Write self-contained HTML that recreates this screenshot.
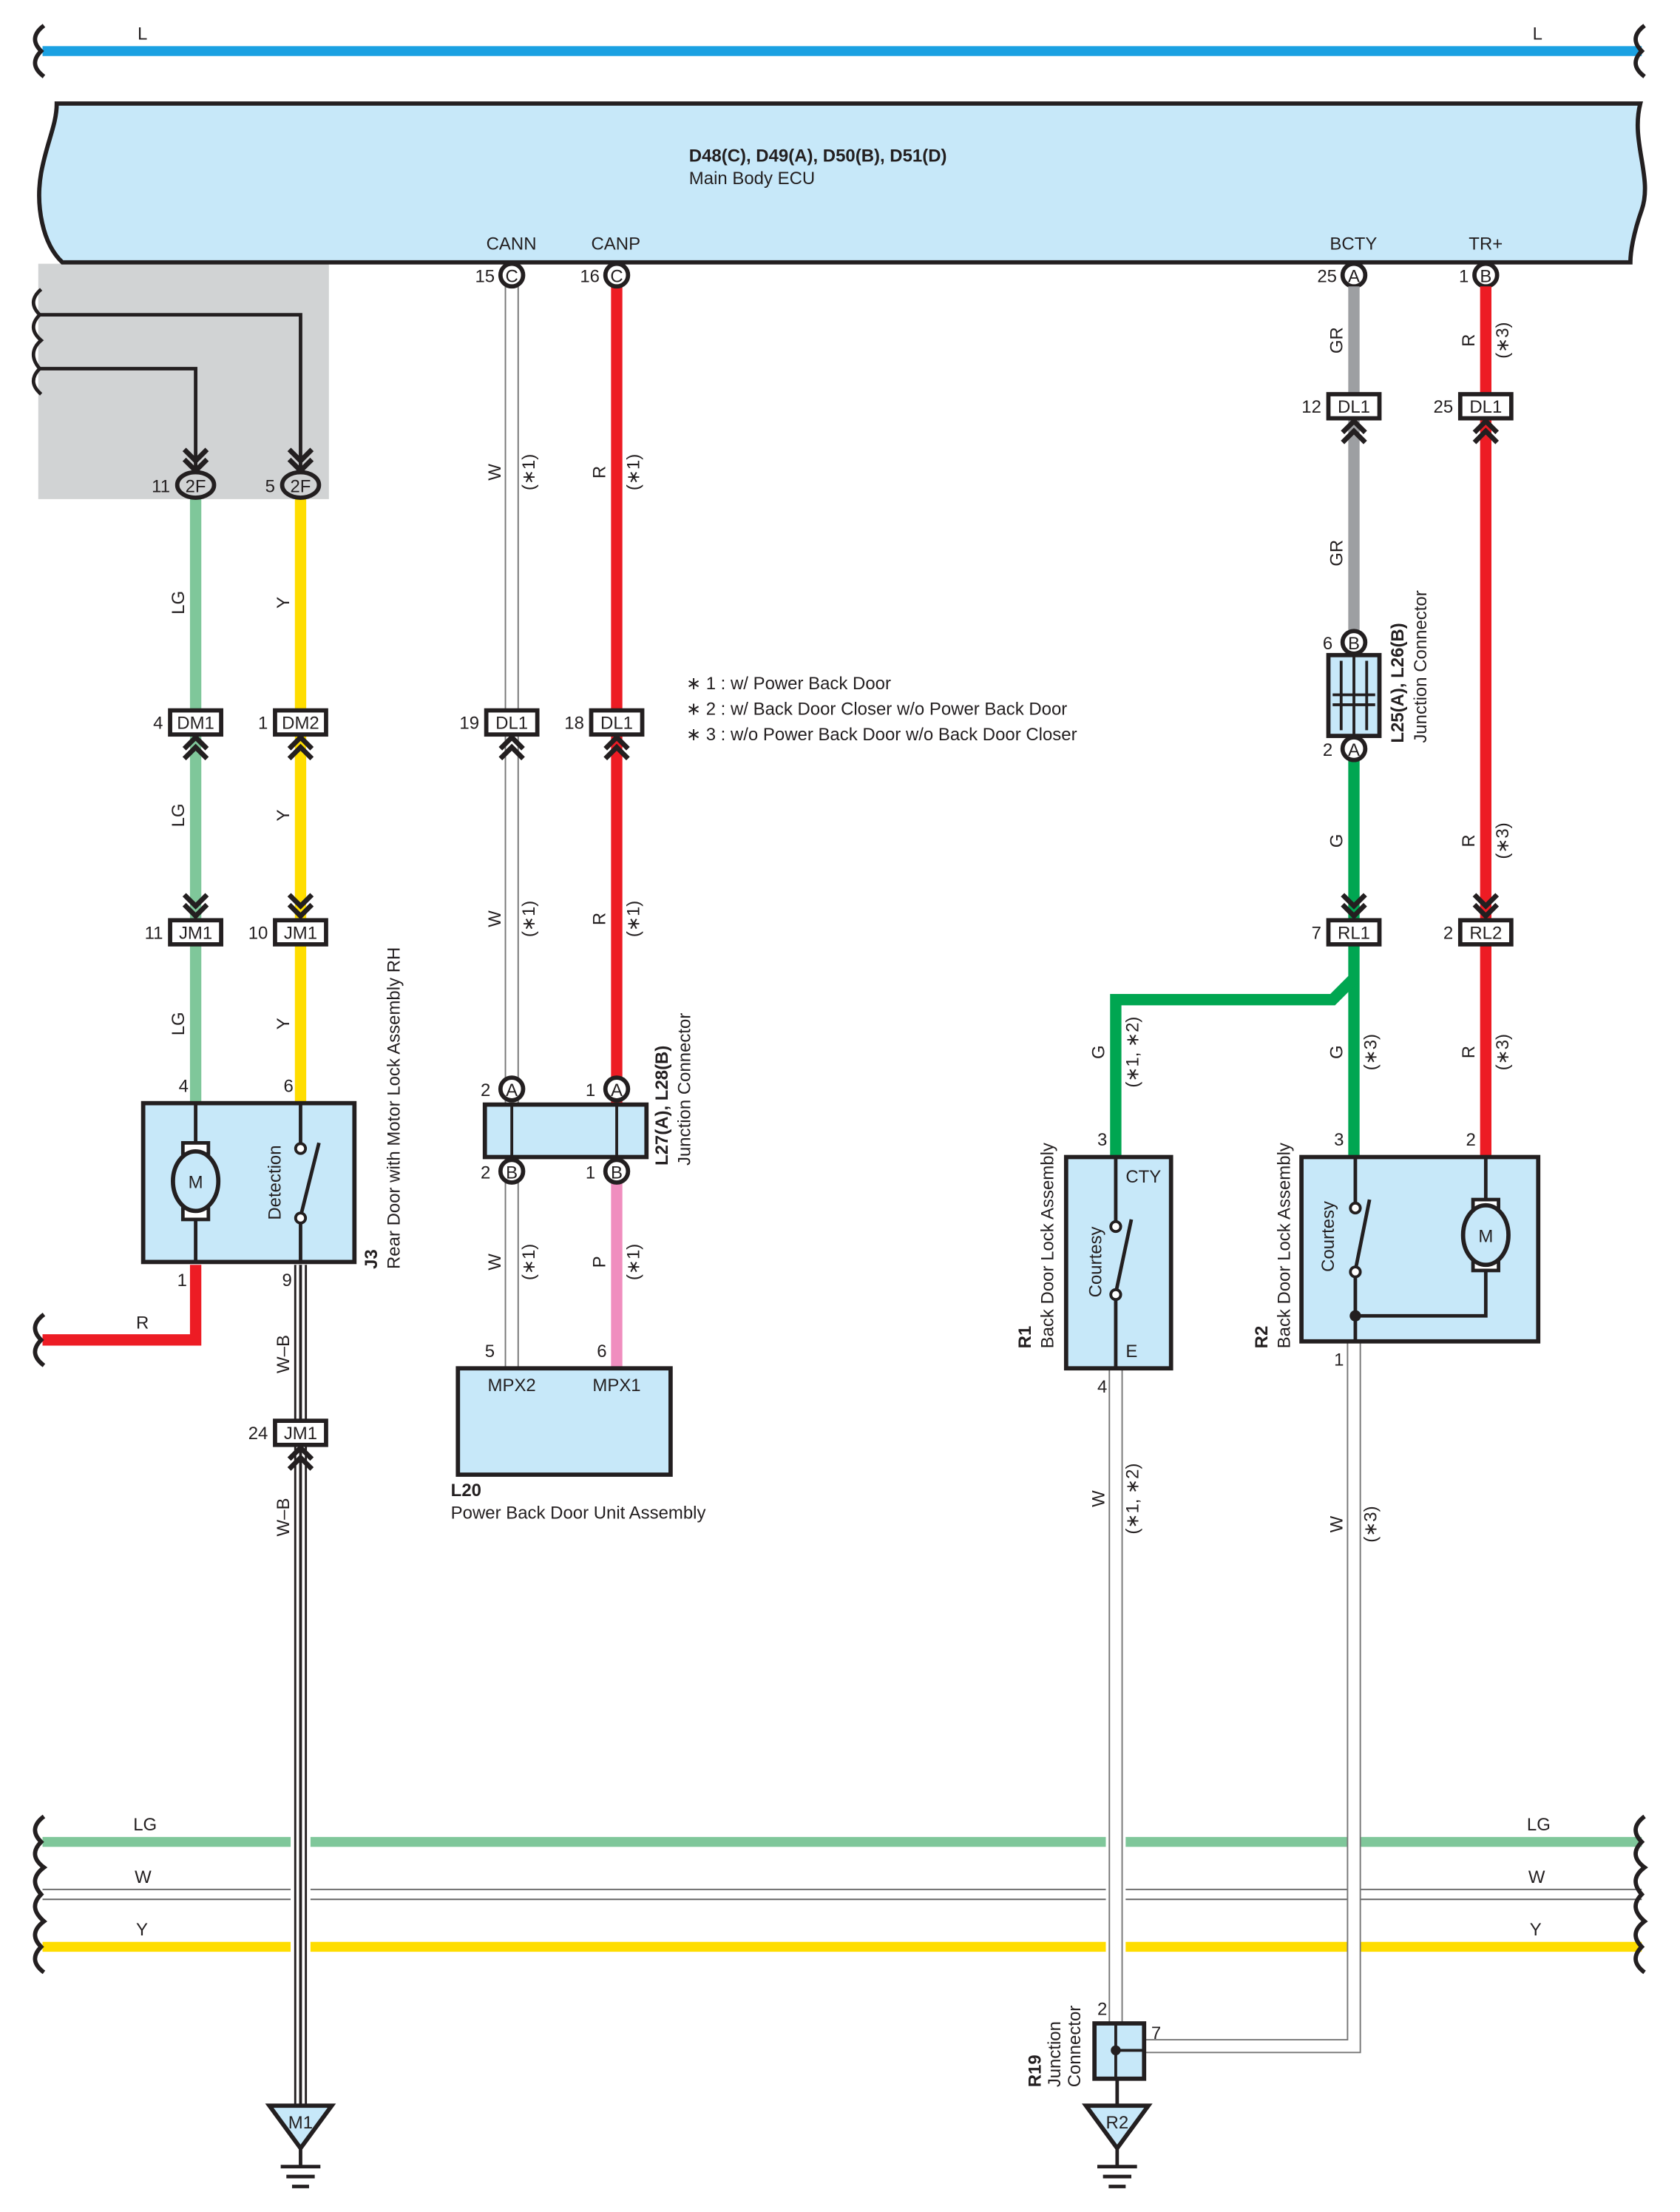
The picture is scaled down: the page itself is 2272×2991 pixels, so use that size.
<!DOCTYPE html>
<html><head><meta charset="utf-8"><style>
html,body{margin:0;padding:0;background:#fff}
svg{display:block}
text{font-family:"Liberation Sans",Arial,sans-serif;font-size:12.5px;fill:#231f20}
.b{font-weight:bold}
</style></head><body>
<svg width="2272" height="2991" viewBox="0 0 1185 1560" xmlns="http://www.w3.org/2000/svg">
<defs>
<path id="cu" d="M-8,8 L0,0 L8,8 M-8,15 L0,7 L8,15" fill="none" stroke="#231f20" stroke-width="3.5"/>
<path id="cd" d="M-8,-8 L0,0 L8,-8 M-8,-15 L0,-7 L8,-15" fill="none" stroke="#231f20" stroke-width="3.5"/>
</defs>
<rect x="27" y="186" width="205" height="166" fill="#d1d3d4"/>
<line x1="30" y1="36" x2="1158" y2="36" stroke="#1ba1e2" stroke-width="7"/>
<path d="M31,18 C23,24 23,30 29,36 C23,42 23,48 31,54" fill="none" stroke="#231f20" stroke-width="3"/>
<path d="M1160,18 C1152,24 1152,30 1158,36 C1152,42 1152,48 1160,54" fill="none" stroke="#231f20" stroke-width="3"/>
<text x="97" y="28">L</text><text x="1081" y="28">L</text>
<path d="M40,73 L1157,73 C1150,100 1166,125 1158,148 C1152,165 1150,178 1150,185 L44,185 C30,172 25,145 29,122 C33,100 40,88 40,73 Z" fill="#c7e8f9" stroke="#231f20" stroke-width="3"/>
<text x="486" y="114" class="b">D48(C), D49(A), D50(B), D51(D)</text>
<text x="486" y="130">Main Body ECU</text>
<text x="343" y="176">CANN</text><text x="417" y="176">CANP</text>
<text x="938" y="176">BCTY</text><text x="1036" y="176">TR+</text>

<line x1="30" y1="1299" x2="1158" y2="1299" stroke="#7fc79a" stroke-width="7"/>
<line x1="30" y1="1336" x2="1158" y2="1336" stroke="#666" stroke-width="8"/>
<line x1="30" y1="1336" x2="1158" y2="1336" stroke="#fff" stroke-width="6"/>
<line x1="30" y1="1373" x2="1158" y2="1373" stroke="#ffdd00" stroke-width="7"/>
<path d="M31,1281 C23,1287 23,1293 29,1299 C23,1305 23,1311 31,1317 C23,1323 23,1329 29,1336 C23,1342 23,1348 31,1355 C23,1361 23,1367 29,1373 C23,1379 23,1385 31,1391" fill="none" stroke="#231f20" stroke-width="3"/>
<path d="M1160,1281 C1152,1287 1152,1293 1158,1299 C1152,1305 1152,1311 1160,1317 C1152,1323 1152,1329 1158,1336 C1152,1342 1152,1348 1160,1355 C1152,1361 1152,1367 1158,1373 C1152,1379 1152,1385 1160,1391" fill="none" stroke="#231f20" stroke-width="3"/>
<text x="94" y="1291">LG</text><text x="1077" y="1291">LG</text>
<text x="95" y="1328">W</text><text x="1078" y="1328">W</text>
<text x="96" y="1365">Y</text><text x="1079" y="1365">Y</text>
<rect x="205" y="1290" width="14" height="92" fill="#fff"/>
<rect x="780" y="1290" width="14" height="92" fill="#fff"/>

<path d="M27,222 L212,222 L212,330" fill="none" stroke="#231f20" stroke-width="2.5"/>
<path d="M27,260 L138,260 L138,330" fill="none" stroke="#231f20" stroke-width="2.5"/>
<path d="M29,204 C22,210 22,216 28,222 C22,228 22,234 29,240 C22,246 22,253 28,260 C22,266 22,272 29,278" fill="none" stroke="#231f20" stroke-width="2.5"/>
<use href="#cd" x="138" y="332"/><use href="#cd" x="212" y="332"/>

<line x1="138" y1="350" x2="138" y2="778" stroke="#7fc79a" stroke-width="8"/>
<line x1="212" y1="350" x2="212" y2="778" stroke="#ffdd00" stroke-width="8"/>
<ellipse cx="138" cy="342" rx="13" ry="9" fill="#d1d3d4" stroke="#231f20" stroke-width="3"/>
<ellipse cx="212" cy="342" rx="13" ry="9" fill="#d1d3d4" stroke="#231f20" stroke-width="3"/>
<text x="138" y="347" text-anchor="middle">2F</text><text x="212" y="347" text-anchor="middle">2F</text>
<text x="120" y="347" text-anchor="end">11</text><text x="194" y="347" text-anchor="end">5</text>

<g stroke="#231f20" stroke-width="3" fill="#fff">
<rect x="120" y="501" width="36" height="17"/><rect x="194" y="501" width="36" height="17"/>
<rect x="120" y="649" width="36" height="17"/><rect x="194" y="649" width="36" height="17"/>
</g>
<text x="138" y="514" text-anchor="middle">DM1</text><text x="212" y="514" text-anchor="middle">DM2</text>
<text x="138" y="662" text-anchor="middle">JM1</text><text x="212" y="662" text-anchor="middle">JM1</text>
<text x="115" y="514" text-anchor="end">4</text><text x="189" y="514" text-anchor="end">1</text>
<text x="115" y="662" text-anchor="end">11</text><text x="189" y="662" text-anchor="end">10</text>
<use href="#cu" x="138" y="520"/><use href="#cu" x="212" y="520"/>
<use href="#cd" x="138" y="646"/><use href="#cd" x="212" y="646"/>
<text transform="translate(130,425) rotate(-90)" text-anchor="middle">LG</text>
<text transform="translate(130,575) rotate(-90)" text-anchor="middle">LG</text>
<text transform="translate(130,722) rotate(-90)" text-anchor="middle">LG</text>
<text transform="translate(204,425) rotate(-90)" text-anchor="middle">Y</text>
<text transform="translate(204,575) rotate(-90)" text-anchor="middle">Y</text>
<text transform="translate(204,722) rotate(-90)" text-anchor="middle">Y</text>

<rect x="101" y="778" width="149" height="112" fill="#c7e8f9" stroke="#231f20" stroke-width="3"/>
<line x1="138" y1="778" x2="138" y2="812" stroke="#231f20" stroke-width="2.5"/>
<line x1="138" y1="856" x2="138" y2="890" stroke="#231f20" stroke-width="2.5"/>
<rect x="129" y="806" width="18" height="8" fill="#fff" stroke="#231f20" stroke-width="2.5"/>
<rect x="129" y="852" width="18" height="8" fill="#fff" stroke="#231f20" stroke-width="2.5"/>
<ellipse cx="138" cy="833" rx="16" ry="21" fill="#c7e8f9" stroke="#231f20" stroke-width="3"/>
<text x="138" y="838" text-anchor="middle">M</text>
<line x1="212" y1="778" x2="212" y2="806" stroke="#231f20" stroke-width="2.5"/>
<circle cx="212" cy="810" r="3.5" fill="#fff" stroke="#231f20" stroke-width="2"/>
<line x1="212" y1="858" x2="225" y2="806" stroke="#231f20" stroke-width="2.5"/>
<circle cx="212" cy="859" r="3.5" fill="#fff" stroke="#231f20" stroke-width="2"/>
<line x1="212" y1="863" x2="212" y2="890" stroke="#231f20" stroke-width="2.5"/>
<text transform="translate(198,834) rotate(-90)" text-anchor="middle">Detection</text>
<text x="126" y="770">4</text><text x="200" y="770">6</text>
<text x="125" y="907">1</text><text x="199" y="907">9</text>
<text transform="translate(266,895) rotate(-90)" class="b">J3</text>
<text transform="translate(282,895) rotate(-90)">Rear Door with Motor Lock Assembly RH</text>
<path d="M138,892 L138,945 L30,945" fill="none" stroke="#ed1c24" stroke-width="8"/>
<path d="M31,927 C23,933 23,939 29,945 C23,951 23,957 31,963" fill="none" stroke="#231f20" stroke-width="3"/>
<text x="96" y="937">R</text>
<line x1="212" y1="892" x2="212" y2="1488" stroke="#231f20" stroke-width="9"/>
<line x1="212" y1="892" x2="212" y2="1488" stroke="#fff" stroke-width="6"/>
<line x1="212" y1="892" x2="212" y2="1488" stroke="#231f20" stroke-width="2"/>
<rect x="194" y="1002" width="36" height="17" fill="#fff" stroke="#231f20" stroke-width="3"/>
<text x="212" y="1015" text-anchor="middle">JM1</text>
<text x="189" y="1015" text-anchor="end">24</text>
<use href="#cu" x="212" y="1021"/>
<text transform="translate(204,955) rotate(-90)" text-anchor="middle">W–B</text>
<text transform="translate(204,1070) rotate(-90)" text-anchor="middle">W–B</text>
<path d="M190,1485 L234,1485 L212,1515 Z" fill="#c7e8f9" stroke="#231f20" stroke-width="3"/>
<text x="212" y="1501" text-anchor="middle">M1</text>
<g stroke="#231f20" stroke-width="2.5"><line x1="212" y1="1515" x2="212" y2="1528"/><line x1="198" y1="1528" x2="226" y2="1528"/><line x1="202" y1="1535" x2="222" y2="1535"/><line x1="206" y1="1542" x2="218" y2="1542"/></g>

<line x1="361" y1="200" x2="361" y2="965" stroke="#777" stroke-width="10"/>
<line x1="361" y1="200" x2="361" y2="965" stroke="#fff" stroke-width="8"/>
<line x1="435" y1="200" x2="435" y2="778" stroke="#ed1c24" stroke-width="8"/>
<line x1="435" y1="818" x2="435" y2="965" stroke="#f08ebf" stroke-width="8"/>
<g fill="#fff" stroke="#231f20" stroke-width="3">
<circle cx="361" cy="194" r="8"/><circle cx="435" cy="194" r="8"/>
<circle cx="955" cy="194" r="8"/><circle cx="1048" cy="194" r="8"/>
<rect x="343" y="501" width="36" height="17"/><rect x="417" y="501" width="36" height="17"/>
</g>
<text x="361" y="199" text-anchor="middle" font-size="11">C</text><text x="435" y="199" text-anchor="middle" font-size="11">C</text>
<text x="955" y="199" text-anchor="middle" font-size="11">A</text><text x="1048" y="199" text-anchor="middle" font-size="11">B</text>
<text x="349" y="199" text-anchor="end">15</text><text x="423" y="199" text-anchor="end">16</text>
<text x="943" y="199" text-anchor="end">25</text><text x="1036" y="199" text-anchor="end">1</text>
<text x="361" y="514" text-anchor="middle">DL1</text><text x="435" y="514" text-anchor="middle">DL1</text>
<text x="338" y="514" text-anchor="end">19</text><text x="412" y="514" text-anchor="end">18</text>
<use href="#cu" x="361" y="520"/><use href="#cu" x="435" y="520"/>
<text transform="translate(353,333) rotate(-90)" text-anchor="middle">W</text>
<text transform="translate(377,333) rotate(-90)" text-anchor="middle">(∗1)</text>
<text transform="translate(353,648) rotate(-90)" text-anchor="middle">W</text>
<text transform="translate(377,648) rotate(-90)" text-anchor="middle">(∗1)</text>
<text transform="translate(353,890) rotate(-90)" text-anchor="middle">W</text>
<text transform="translate(377,890) rotate(-90)" text-anchor="middle">(∗1)</text>
<text transform="translate(427,333) rotate(-90)" text-anchor="middle">R</text>
<text transform="translate(451,333) rotate(-90)" text-anchor="middle">(∗1)</text>
<text transform="translate(427,648) rotate(-90)" text-anchor="middle">R</text>
<text transform="translate(451,648) rotate(-90)" text-anchor="middle">(∗1)</text>
<text transform="translate(427,890) rotate(-90)" text-anchor="middle">P</text>
<text transform="translate(451,890) rotate(-90)" text-anchor="middle">(∗1)</text>
<rect x="342" y="779" width="114" height="37" fill="#c7e8f9" stroke="#231f20" stroke-width="3"/>
<line x1="361" y1="779" x2="361" y2="816" stroke="#231f20" stroke-width="2"/>
<line x1="435" y1="779" x2="435" y2="816" stroke="#231f20" stroke-width="2"/>
<g fill="#fff" stroke="#231f20" stroke-width="3">
<circle cx="361" cy="768" r="8"/><circle cx="435" cy="768" r="8"/>
<circle cx="361" cy="826" r="8"/><circle cx="435" cy="826" r="8"/>
</g>
<text x="361" y="773" text-anchor="middle" font-size="11">A</text><text x="435" y="773" text-anchor="middle" font-size="11">A</text>
<text x="361" y="831" text-anchor="middle" font-size="11">B</text><text x="435" y="831" text-anchor="middle" font-size="11">B</text>
<text x="346" y="773" text-anchor="end">2</text><text x="420" y="773" text-anchor="end">1</text>
<text x="346" y="831" text-anchor="end">2</text><text x="420" y="831" text-anchor="end">1</text>
<text transform="translate(471,822) rotate(-90)" class="b">L27(A), L28(B)</text>
<text transform="translate(487,822) rotate(-90)">Junction Connector</text>
<rect x="323" y="965" width="150" height="75" fill="#c7e8f9" stroke="#231f20" stroke-width="3"/>
<text x="361" y="981" text-anchor="middle">MPX2</text><text x="435" y="981" text-anchor="middle">MPX1</text>
<text x="349" y="957" text-anchor="end">5</text><text x="428" y="957" text-anchor="end">6</text>
<text x="318" y="1055" class="b">L20</text>
<text x="318" y="1071">Power Back Door Unit Assembly</text>
<text x="484" y="486">∗ 1 : w/ Power Back Door</text>
<text x="484" y="504">∗ 2 : w/ Back Door Closer w/o Power Back Door</text>
<text x="484" y="522">∗ 3 : w/o Power Back Door w/o Back Door Closer</text>

<line x1="955" y1="202" x2="955" y2="446" stroke="#9d9fa2" stroke-width="8"/>
<line x1="955" y1="536" x2="955" y2="815" stroke="#00a651" stroke-width="8"/>
<path d="M955,690 L940,705 L787,705 L787,815" fill="none" stroke="#00a651" stroke-width="8"/>
<line x1="1048" y1="202" x2="1048" y2="815" stroke="#ed1c24" stroke-width="8"/>
<g fill="#fff" stroke="#231f20" stroke-width="3">
<rect x="937" y="278" width="36" height="17"/><rect x="1030" y="278" width="36" height="17"/>
<rect x="937" y="649" width="36" height="17"/><rect x="1030" y="649" width="36" height="17"/>
</g>
<text x="955" y="291" text-anchor="middle">DL1</text><text x="1048" y="291" text-anchor="middle">DL1</text>
<text x="955" y="662" text-anchor="middle">RL1</text><text x="1048" y="662" text-anchor="middle">RL2</text>
<text x="932" y="291" text-anchor="end">12</text><text x="1025" y="291" text-anchor="end">25</text>
<text x="932" y="662" text-anchor="end">7</text><text x="1025" y="662" text-anchor="end">2</text>
<use href="#cu" x="955" y="297"/><use href="#cu" x="1048" y="297"/>
<use href="#cd" x="955" y="646"/><use href="#cd" x="1048" y="646"/>
<rect x="937" y="462" width="36" height="57" fill="#c7e8f9" stroke="#231f20" stroke-width="3"/>
<g stroke="#231f20" stroke-width="2"><line x1="955" y1="462" x2="955" y2="519"/><line x1="946" y1="466" x2="946" y2="515"/><line x1="964" y1="466" x2="964" y2="515"/><line x1="940" y1="490" x2="970" y2="490"/><line x1="940" y1="497" x2="970" y2="497"/></g>
<g fill="#fff" stroke="#231f20" stroke-width="3"><circle cx="955" cy="453" r="8"/><circle cx="955" cy="528" r="8"/></g>
<text x="955" y="458" text-anchor="middle" font-size="11">B</text><text x="955" y="533" text-anchor="middle" font-size="11">A</text>
<text x="940" y="458" text-anchor="end">6</text><text x="940" y="533" text-anchor="end">2</text>
<text transform="translate(990,524) rotate(-90)" class="b">L25(A), L26(B)</text>
<text transform="translate(1006,524) rotate(-90)">Junction Connector</text>
<text transform="translate(947,240) rotate(-90)" text-anchor="middle">GR</text>
<text transform="translate(947,390) rotate(-90)" text-anchor="middle">GR</text>
<text transform="translate(1040,240) rotate(-90)" text-anchor="middle">R</text>
<text transform="translate(1064,240) rotate(-90)" text-anchor="middle">(∗3)</text>
<text transform="translate(947,593) rotate(-90)" text-anchor="middle">G</text>
<text transform="translate(1040,593) rotate(-90)" text-anchor="middle">R</text>
<text transform="translate(1064,593) rotate(-90)" text-anchor="middle">(∗3)</text>
<text transform="translate(779,742) rotate(-90)" text-anchor="middle">G</text>
<text transform="translate(803,742) rotate(-90)" text-anchor="middle">(∗1, ∗2)</text>
<text transform="translate(947,742) rotate(-90)" text-anchor="middle">G</text>
<text transform="translate(971,742) rotate(-90)" text-anchor="middle">(∗3)</text>
<text transform="translate(1040,742) rotate(-90)" text-anchor="middle">R</text>
<text transform="translate(1064,742) rotate(-90)" text-anchor="middle">(∗3)</text>
<text transform="translate(779,1057) rotate(-90)" text-anchor="middle">W</text>
<text transform="translate(803,1057) rotate(-90)" text-anchor="middle">(∗1, ∗2)</text>
<text transform="translate(947,1075) rotate(-90)" text-anchor="middle">W</text>
<text transform="translate(971,1075) rotate(-90)" text-anchor="middle">(∗3)</text>
<line x1="787" y1="966" x2="787" y2="1427" stroke="#777" stroke-width="10"/>
<line x1="787" y1="966" x2="787" y2="1427" stroke="#fff" stroke-width="8"/>
<path d="M955,947 L955,1443 L807,1443" fill="none" stroke="#777" stroke-width="10"/>
<path d="M955,947 L955,1443 L807,1443" fill="none" stroke="#fff" stroke-width="8"/>
<rect x="752" y="816" width="74" height="149" fill="#c7e8f9" stroke="#231f20" stroke-width="3"/>
<line x1="787" y1="816" x2="787" y2="861" stroke="#231f20" stroke-width="2.5"/>
<circle cx="787" cy="865" r="3.5" fill="#fff" stroke="#231f20" stroke-width="2"/>
<line x1="787" y1="912" x2="798" y2="860" stroke="#231f20" stroke-width="2.5"/>
<circle cx="787" cy="913" r="3.5" fill="#fff" stroke="#231f20" stroke-width="2"/>
<line x1="787" y1="917" x2="787" y2="965" stroke="#231f20" stroke-width="2.5"/>
<text x="794" y="834">CTY</text><text x="794" y="957">E</text>
<text transform="translate(777,890) rotate(-90)" text-anchor="middle">Courtesy</text>
<text x="774" y="808">3</text><text x="774" y="982">4</text>
<text transform="translate(727,951) rotate(-90)" class="b">R1</text>
<text transform="translate(743,951) rotate(-90)">Back Door Lock Assembly</text>
<rect x="918" y="816" width="167" height="130" fill="#c7e8f9" stroke="#231f20" stroke-width="3"/>
<line x1="956" y1="816" x2="956" y2="848" stroke="#231f20" stroke-width="2.5"/>
<circle cx="956" cy="852" r="3.5" fill="#fff" stroke="#231f20" stroke-width="2"/>
<line x1="956" y1="896" x2="966" y2="846" stroke="#231f20" stroke-width="2.5"/>
<circle cx="956" cy="897" r="3.5" fill="#fff" stroke="#231f20" stroke-width="2"/>
<line x1="956" y1="901" x2="956" y2="946" stroke="#231f20" stroke-width="2.5"/>
<circle cx="956" cy="928" r="4" fill="#231f20"/>
<path d="M956,928 L1048,928 L1048,893 M1048,816 L1048,849" fill="none" stroke="#231f20" stroke-width="2.5"/>
<rect x="1039" y="846" width="18" height="8" fill="#fff" stroke="#231f20" stroke-width="2.5"/>
<rect x="1039" y="888" width="18" height="8" fill="#fff" stroke="#231f20" stroke-width="2.5"/>
<ellipse cx="1048" cy="871" rx="16" ry="21" fill="#c7e8f9" stroke="#231f20" stroke-width="3"/>
<text x="1048" y="876" text-anchor="middle">M</text>
<text transform="translate(941,872) rotate(-90)" text-anchor="middle">Courtesy</text>
<text x="941" y="808">3</text><text x="1034" y="808">2</text><text x="941" y="963">1</text>
<text transform="translate(894,951) rotate(-90)" class="b">R2</text>
<text transform="translate(910,951) rotate(-90)">Back Door Lock Assembly</text>
<rect x="772" y="1427" width="35" height="39" fill="#c7e8f9" stroke="#231f20" stroke-width="3"/>
<path d="M787,1427 L787,1466 M787,1446 L807,1446" stroke="#231f20" stroke-width="2"/>
<circle cx="787" cy="1446" r="3.5" fill="#231f20"/>
<text x="774" y="1421">2</text><text x="812" y="1438">7</text>
<text transform="translate(734,1472) rotate(-90)" class="b">R19</text>
<text transform="translate(748,1472) rotate(-90)">Junction</text>
<text transform="translate(762,1472) rotate(-90)">Connector</text>
<line x1="788" y1="1466" x2="788" y2="1485" stroke="#231f20" stroke-width="2.5"/>
<path d="M766,1485 L810,1485 L788,1515 Z" fill="#c7e8f9" stroke="#231f20" stroke-width="3"/>
<text x="788" y="1501" text-anchor="middle">R2</text>
<g stroke="#231f20" stroke-width="2.5"><line x1="788" y1="1515" x2="788" y2="1528"/><line x1="774" y1="1528" x2="802" y2="1528"/><line x1="778" y1="1535" x2="798" y2="1535"/><line x1="782" y1="1542" x2="794" y2="1542"/></g>
</svg>
</body></html>
